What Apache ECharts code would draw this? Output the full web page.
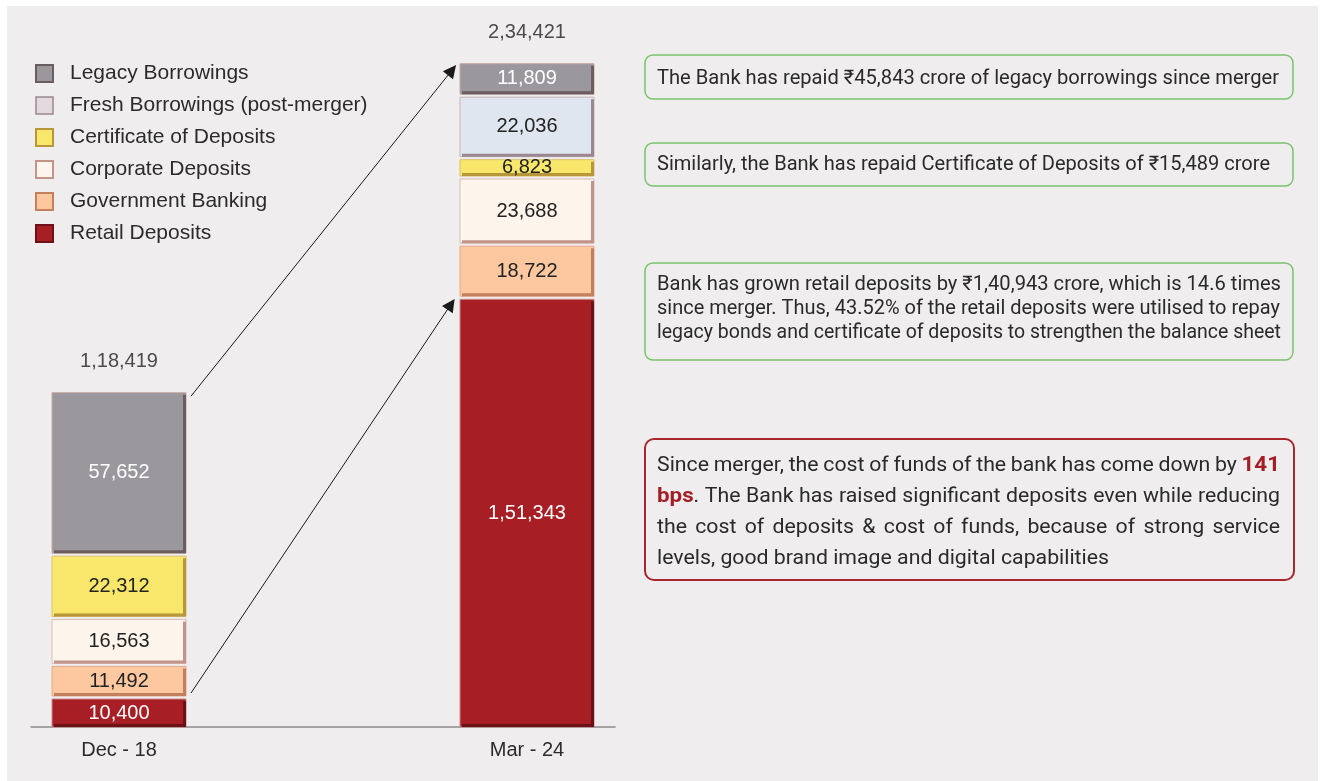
<!DOCTYPE html>
<html lang="en">
<head>
<meta charset="UTF-8">
<title>Funding mix since merger</title>
<script src="https://cdn.jsdelivr.net/npm/echarts@6/dist/echarts.min.js"></script>
<style>
    html, body { margin: 0; padding: 0; background: #fff; }
    #panel { position: absolute; left: 7px; top: 6px; width: 1311px; height: 775px; background: #efedee; }
    #main { position: absolute; left: 0; top: 0; width: 1321px; height: 781px; }
</style>
</head>
<body>
<div id="panel"></div>
<div id="main"></div>
<script>
    // values in Rs crore
    var categories = ['Dec - 18', 'Mar - 24'];
    var retail = [10400, 151343];
    var government = [11492, 18722];
    var corporate = [16563, 23688];
    var certDeposits = [22312, 6823];
    var freshBorrow = [0, 22036];
    var legacyBorrow = [57652, 11809];
    var totals = [118419, 234421];

    var BAR_W = 134;
    var X_PX = 408;              // pixels between the two bar centres
    var Y_PX = 709 / 250000;     // pixels per crore
    var LABEL_FONT = 'Liberation Sans';
    var NOTE_FONT = '20px Roboto';
    var NOTE_BOLD = 'bold 21px Roboto';
    var INK = '#2a2a2a';
    var RED = '#a51e24';

    // Indian digit grouping: 1,51,343
    function fmtIN(n) {
        var s = String(Math.round(n));
        if (s.length <= 3) return s;
        var last3 = s.slice(-3), rest = s.slice(0, -3);
        rest = rest.replace(/\B(?=(\d{2})+(?!\d))/g, ',');
        return rest + ',' + last3;
    }

    // stack order, bottom to top
    var segs = [
        {name: 'Retail Deposits', values: retail, fill: '#a71f24', dark: '#6c1115', edge: '#c98a8c', text: '#ffffff'},
        {name: 'Government Banking', values: government, fill: '#fdc7a0', dark: '#c47f5d', edge: '#e4aa8c', text: '#222222'},
        {name: 'Corporate Deposits', values: corporate, fill: '#fdf5ec', dark: '#c29489', edge: '#dcbcb2', text: '#222222'},
        {name: 'Certificate of Deposits', values: certDeposits, fill: '#f9e76b', dark: '#b8963a', edge: '#dcc06d', text: '#222222'},
        {name: 'Fresh Borrowings (post-merger)', values: freshBorrow, fill: '#dfe6ef', dark: '#9a8790', edge: '#c8b5ba', text: '#222222'},
        {name: 'Legacy Borrowings', values: legacyBorrow, fill: '#9a989d', dark: '#6b5d5f', edge: '#caa9a3', text: '#ffffff'}
    ];

    function makeRender(s) {
        return function (params, api) {
            var x = api.value(0), base = api.value(1), v = api.value(2);
            if (!v) return null;
            var pb = api.coord([x, base]);
            var pt = api.coord([x, base + v]);
            var left = pb[0] - BAR_W / 2, right = pb[0] + BAR_W / 2;
            var top = pt[1] + 1.5;
            var bottom = base === 0 ? pb[1] : pb[1] - 1.5;
            return {
                type: 'group',
                children: [
                    {type: 'rect', shape: {x: left, y: top, width: right - left, height: bottom - top},
                        style: {fill: s.fill, stroke: s.edge, lineWidth: 1}},
                    {type: 'polyline', shape: {points: [[left + 2, bottom - 1.5], [right - 1.5, bottom - 1.5], [right - 1.5, top + 2]]},
                        style: {fill: null, stroke: s.dark, lineWidth: 3}},
                    {type: 'text', style: {text: fmtIN(v), x: pb[0], y: (top + bottom) / 2,
                        align: 'center', verticalAlign: 'middle', textAlign: 'center', textVerticalAlign: 'middle',
                        font: '20px "' + LABEL_FONT + '"', fill: s.text}}
                ]
            };
        };
    }

    var series = [];
    var running = [0, 0];
    segs.forEach(function (s) {
        var data = [];
        for (var i = 0; i < categories.length; i++) {
            data.push([i, running[i], s.values[i]]);
            running[i] += s.values[i];
        }
        series.push({
            name: s.name,
            type: 'custom',
            renderItem: makeRender(s),
            itemStyle: {color: s.fill, borderColor: s.dark, borderWidth: 1.5},
            encode: {x: 0, y: 2},
            data: data
        });
    });

    // arrow anchors (offsets in px converted to data units)
    var mid = function (i, k) { // middle of segment k in bar i
        var b = 0;
        for (var j = 0; j < k; j++) b += segs[j].values[i];
        return b + segs[k].values[i] / 2;
    };
    var arrowStyle = {color: '#1a1a1a', width: 1, type: 'solid'};
    var rightEdge = 1 + (BAR_W / 2 + 1) / X_PX;
    var arrowEnd = 1 + 105 / X_PX;
    series.push({
        name: 'total',
        type: 'scatter',
        symbol: 'circle',
        symbolSize: 1,
        itemStyle: {color: 'rgba(0,0,0,0)'},
        silent: true,
        label: {
            show: true, position: 'top', distance: 19,
            formatter: function (p) { return fmtIN(p.value[1]); },
            fontFamily: LABEL_FONT, fontSize: 20, color: '#222'
        },
        data: [[0, totals[0]], [1, totals[1]]],
        markLine: {
            silent: true,
            symbol: ['none', 'triangle'],
            symbolSize: 13,
            label: {show: false},
            lineStyle: arrowStyle,
            emphasis: {disabled: true},
            data: [
                [{coord: [72 / X_PX, totals[0] - 5 / Y_PX]}, {coord: [1 - 75 / X_PX, totals[1] - 8 / Y_PX]}],
                [{coord: [72 / X_PX, retail[0] + 4.5 / Y_PX]}, {coord: [1 - 76 / X_PX, retail[1] - 6.5 / Y_PX]}],
                [{coord: [rightEdge, mid(1, 5)]}, {coord: [arrowEnd, mid(1, 5)]}],
                [{coord: [rightEdge, mid(1, 3)]}, {coord: [arrowEnd, mid(1, 3)]}],
                [{coord: [rightEdge, retail[1] - 11 / Y_PX]}, {coord: [arrowEnd, retail[1] - 11 / Y_PX]}]
            ]
        }
    });

    // ---- annotation text ----
    var mctx = document.createElement('canvas').getContext('2d');
    function textW(t, font) { mctx.font = font; return mctx.measureText(t).width; }
    function textEl(t, x, y, k, font, color) {
        return {type: 'text', x: x, y: y, scaleX: k,
            style: {text: t, font: font, fill: color, align: 'left', verticalAlign: 'middle',
                textAlign: 'left', textVerticalAlign: 'middle'}};
    }
    function fitLine(t, x, y, width) {
        return textEl(t, x, y, width / textW(t, NOTE_FONT), NOTE_FONT, INK);
    }
    function justifyLine(words, x, y, width, k) {
        var els = [], widths = [], total = 0;
        words.forEach(function (w) {
            var ww = 0;
            w.forEach(function (seg) { ww += textW(seg[0], seg[1] ? NOTE_BOLD : NOTE_FONT) * k; });
            widths.push(ww); total += ww;
        });
        var gap = (width - total) / (words.length - 1);
        var cx = x;
        words.forEach(function (w, i) {
            var sx = cx;
            w.forEach(function (seg) {
                var f = seg[1] ? NOTE_BOLD : NOTE_FONT;
                els.push(textEl(seg[0], sx, y, k, f, seg[1] ? RED : INK));
                sx += textW(seg[0], f) * k;
            });
            cx += widths[i] + gap;
        });
        return els;
    }
    function plainWords(str) {
        return str.split(' ').map(function (w) { return [[w, false]]; });
    }

    var lastLine = 'levels, good brand image and digital capabilities';
    var k4 = 452 / textW(lastLine, NOTE_FONT);
    var line1 = plainWords('Since merger, the cost of funds of the bank has come down by').concat([[['141', true]]]);
    var line2 = [[['bps', true], ['.', false]]].concat(plainWords('The Bank has raised significant deposits even while reducing'));
    var line3 = plainWords('the cost of deposits & cost of funds, because of strong service');

    var green = '#7ac46d';
    var graphics = [
        {type: 'rect', shape: {x: 645, y: 55, width: 648, height: 44, r: 8}, style: {fill: 'none', stroke: green, lineWidth: 1.5}},
        {type: 'rect', shape: {x: 645, y: 143, width: 648, height: 43, r: 8}, style: {fill: 'none', stroke: green, lineWidth: 1.5}},
        {type: 'rect', shape: {x: 645, y: 263, width: 648, height: 97, r: 8}, style: {fill: 'none', stroke: green, lineWidth: 1.5}},
        {type: 'rect', shape: {x: 645, y: 439, width: 649, height: 141, r: 9}, style: {fill: 'none', stroke: '#a8262c', lineWidth: 2}},
        fitLine('The Bank has repaid \u20b945,843 crore of legacy borrowings since merger', 657, 79, 622),
        fitLine('Similarly, the Bank has repaid Certificate of Deposits of \u20b915,489 crore', 657, 165, 613),
        fitLine('Bank has grown retail deposits by \u20b91,40,943 crore, which is 14.6 times', 657, 285, 624),
        fitLine('since merger. Thus, 43.52% of the retail deposits were utilised to repay', 657, 309, 623),
        fitLine('legacy bonds and certificate of deposits to strengthen the balance sheet', 657, 333, 624),
        textEl(lastLine, 657, 559, k4, NOTE_FONT, INK)
    ];
    graphics = graphics.concat(justifyLine(line1, 657, 466, 623, k4))
        .concat(justifyLine(line2, 657, 497, 623, k4))
        .concat(justifyLine(line3, 657, 528, 623, k4));

    var legendNames = ['Legacy Borrowings', 'Fresh Borrowings (post-merger)', 'Certificate of Deposits',
        'Corporate Deposits', 'Government Banking', 'Retail Deposits'];

    var myChart = echarts.init(document.getElementById('main'));
    var option = {
        animation: false,
        backgroundColor: 'transparent',
        grid: {left: 31, right: 706, top: 18, bottom: 54},
        legend: {
            orient: 'vertical',
            left: 35,
            top: 63,
            padding: 0,
            icon: 'rect',
            itemWidth: 17,
            itemHeight: 17,
            itemGap: 11,
            selectedMode: false,
            textStyle: {fontFamily: LABEL_FONT, fontSize: 21, lineHeight: 21, color: '#2b2b2b', padding: [0, 0, 0, 12]},
            data: legendNames.map(function (n) {
                if (n === 'Fresh Borrowings (post-merger)') {
                    return {name: n, itemStyle: {color: '#e4d9de', borderColor: '#9a8790', borderWidth: 1.5}};
                }
                return {name: n};
            })
        },
        xAxis: {
            type: 'value',
            min: -88 / X_PX,
            max: 1 + 88 / X_PX,
            splitLine: {show: false},
            axisTick: {show: false},
            axisLine: {show: true, lineStyle: {color: '#8c8c8c', width: 1.5}},
            axisLabel: {
                customValues: [0, 1],
                margin: 13,
                fontFamily: LABEL_FONT,
                fontSize: 20,
                color: '#2b2b2b',
                formatter: function (v) { return categories[Math.round(v)]; }
            }
        },
        yAxis: {type: 'value', min: 0, max: 250000, show: false},
        graphic: graphics,
        series: series
    };
    myChart.setOption(option);
</script>
</body>
</html>
